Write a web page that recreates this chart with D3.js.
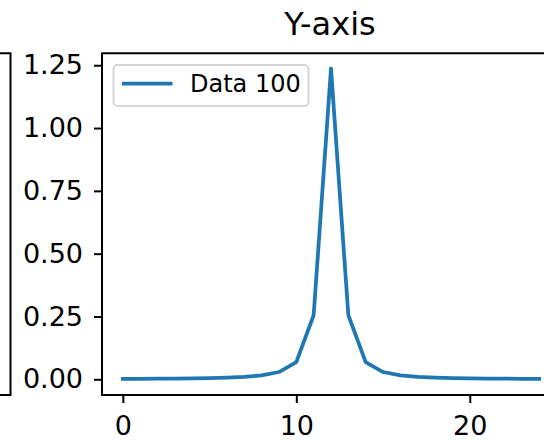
<!DOCTYPE html>
<html>
<head>
<meta charset="utf-8">
<script src="https://cdn.jsdelivr.net/npm/d3@7"></script>
<style>
  body { margin: 0; background: #fff; }
  svg { display: block; font-family: "DejaVu Sans", sans-serif; }
</style>
</head>
<body>
<svg id="chart" width="544" height="440"></svg>
<script>
// data
const xValues = [0,1,2,3,4,5,6,7,8,9,10,11,12,13,14,15,16,17,18,19,20,21,22,23,24];
const yValues = [0.0017,0.0021,0.0025,0.0031,0.0039,0.0051,0.0069,0.010,0.0156,0.029,0.068,0.255,1.237,
                 0.255,0.068,0.029,0.0156,0.010,0.0069,0.0051,0.0039,0.0031,0.0025,0.0021,0.0017];
const yTicks = [0, 0.25, 0.5, 0.75, 1.0, 1.25];
const xTicks = [0, 10, 20];
const seriesName = "Data 100";
const title = "Y-axis";

const svg = d3.select("#chart");
const plot = {left: 102, right: 560, top: 53.3, bottom: 395};

const x = d3.scaleLinear().domain([-1.2, 25.2]).range([plot.left, plot.right]);
const y = d3.scaleLinear().domain([-0.0625, 1.2975]).range([plot.bottom, plot.top]);

// spine of the neighbouring subplot (cut off on the left)
svg.append("path")
  .attr("d", "M-2," + plot.top + "H10.5V" + plot.bottom + "H-2")
  .attr("fill", "none").attr("stroke", "#000").attr("stroke-width", 2);

// y axis
const yAxis = svg.append("g")
  .attr("transform", "translate(" + plot.left + ",0)")
  .call(d3.axisLeft(y).tickValues(yTicks).tickFormat(d3.format(".2f")).tickSize(8).tickPadding(11));
yAxis.select(".domain").remove();
yAxis.selectAll("line").attr("stroke", "#000").attr("stroke-width", 2);
yAxis.selectAll("text").style("font-size", "27px").attr("fill", "#000")
  .attr("font-family", "DejaVu Sans");

// x axis
const xAxis = svg.append("g")
  .attr("transform", "translate(0," + plot.bottom + ")")
  .call(d3.axisBottom(x).tickValues(xTicks).tickFormat(d3.format("d")).tickSize(8).tickPadding(12.5));
xAxis.select(".domain").remove();
xAxis.selectAll("line").attr("stroke", "#000").attr("stroke-width", 2);
xAxis.selectAll("text").style("font-size", "27px").attr("fill", "#000")
  .attr("font-family", "DejaVu Sans");

// line
const line = d3.line().x((d, i) => x(xValues[i])).y(d => y(d));
svg.append("path")
  .datum(yValues)
  .attr("fill", "none")
  .attr("stroke", "#1f77b4")
  .attr("stroke-width", 3.75)
  .attr("stroke-linejoin", "round")
  .attr("stroke-linecap", "square")
  .attr("d", line);

// frame
svg.append("path")
  .attr("d", "M" + plot.right + "," + plot.top + "H" + plot.left + "V" + plot.bottom + "H" + plot.right)
  .attr("fill", "none").attr("stroke", "#000").attr("stroke-width", 2)
  .attr("stroke-linecap", "square");

// title
svg.append("text")
  .attr("x", 330).attr("y", 35)
  .attr("text-anchor", "middle")
  .style("font-size", "32px")
  .text(title);

// legend
const lg = svg.append("g");
lg.append("rect")
  .attr("x", 113.5).attr("y", 65).attr("width", 195).attr("height", 41)
  .attr("rx", 4).attr("fill", "#fff").attr("fill-opacity", 0.8)
  .attr("stroke", "#d5d5d5").attr("stroke-width", 2);
lg.append("line")
  .attr("x1", 122).attr("x2", 172.5).attr("y1", 83.5).attr("y2", 83.5)
  .attr("stroke", "#1f77b4").attr("stroke-width", 3.75);
lg.append("text")
  .attr("x", 190).attr("y", 92)
  .style("font-size", "24px")
  .text(seriesName);
</script>
</body>
</html>
